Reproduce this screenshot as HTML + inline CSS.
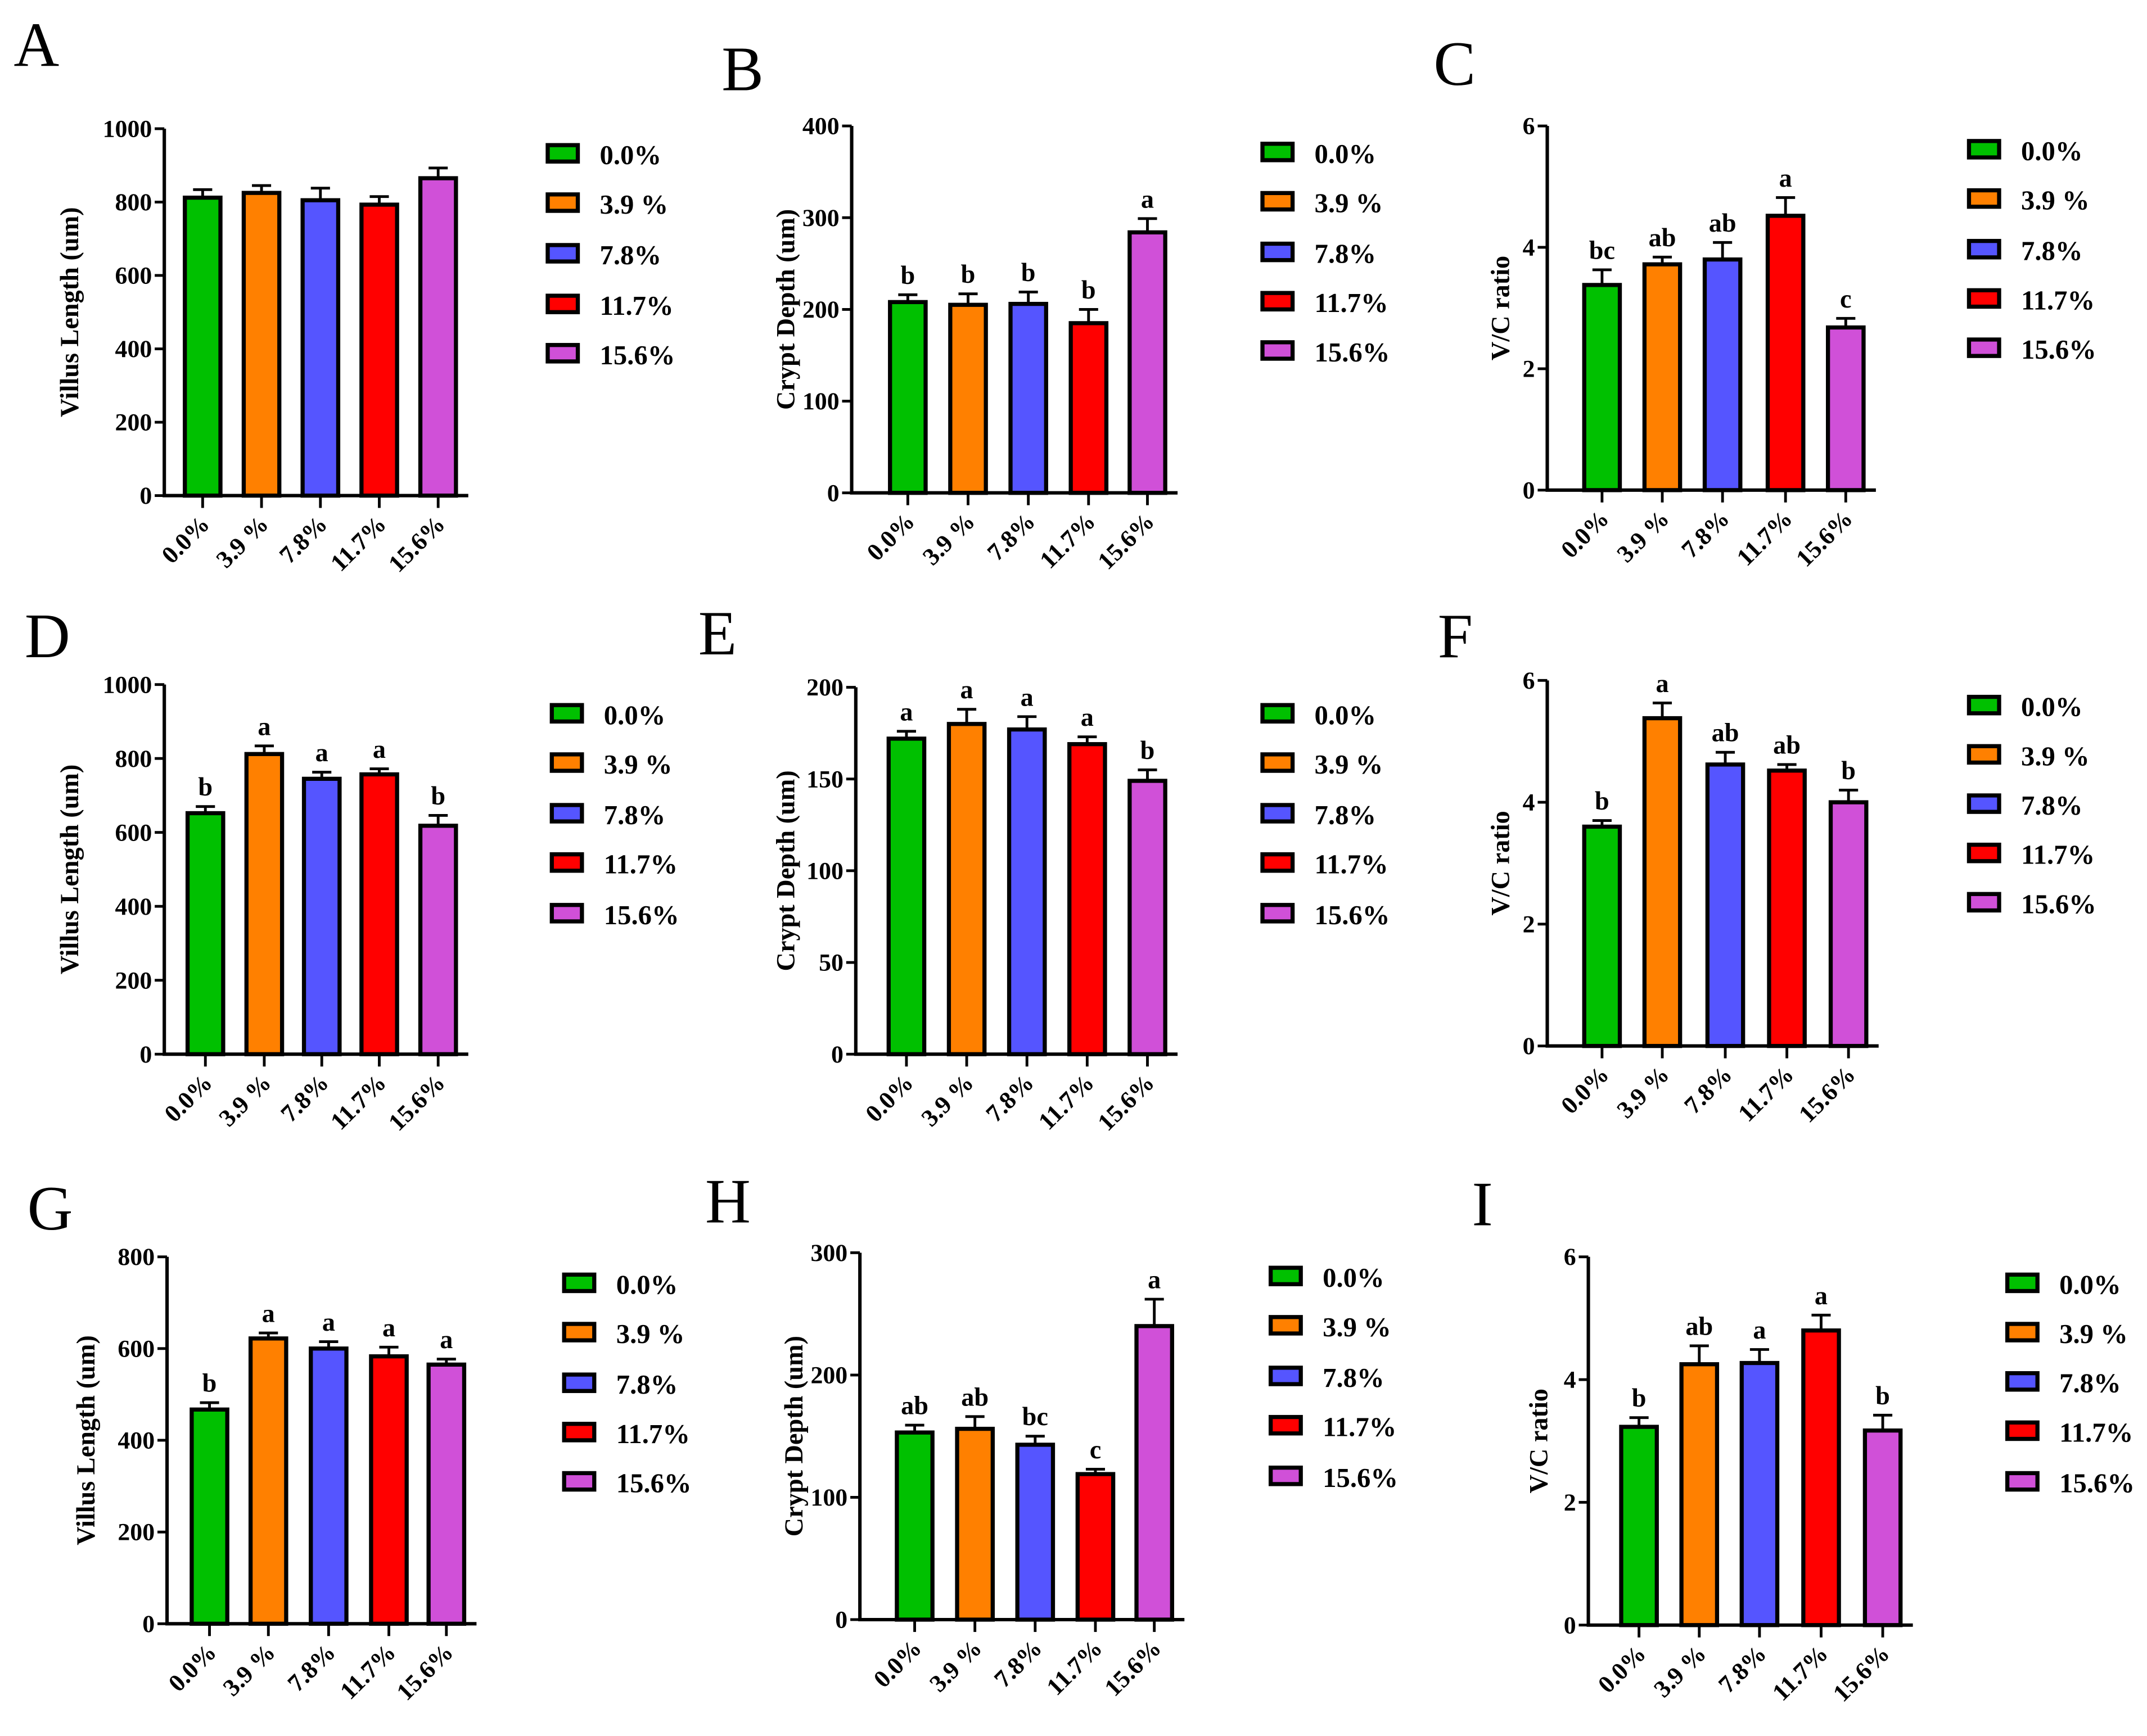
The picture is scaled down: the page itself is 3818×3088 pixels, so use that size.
<!DOCTYPE html>
<html><head><meta charset="utf-8"><style>
html,body{margin:0;padding:0;background:#fff}
svg{display:block}
text{font-family:"Liberation Serif",serif;font-weight:bold;fill:#000}
</style></head><body>
<svg id="fig" width="3818" height="3088" viewBox="0 0 1568 1268" preserveAspectRatio="none" xmlns="http://www.w3.org/2000/svg"></svg>
<script>
const categories = ["0.0%","3.9 %","7.8%","11.7%","15.6%"];
const colors = ["#00c000","#ff8000","#5555ff","#ff0000","#d050d8"];
const valsA = [812,825,805,793,865], errA = [22,20,33,22,28], letA = ["","","","",""];
const valsB = [208,205,206,185,284], errB = [8,12,13,15,15], letB = ["b","b","b","b","a"];
const valsC = [3.38,3.72,3.8,4.52,2.68], errC = [0.25,0.12,0.28,0.3,0.15], letC = ["bc","ab","ab","a","c"];
const valsD = [652,812,745,757,618], errD = [18,22,18,15,28], letD = ["b","a","a","a","b"];
const valsE = [172,180,177,169,149], errE = [4,8,7,4,6], letE = ["a","a","a","a","b"];
const valsF = [3.6,5.38,4.62,4.52,4.0], errF = [0.1,0.25,0.2,0.1,0.2], letF = ["b","a","ab","ab","b"];
const valsG = [467,622,600,583,565], errG = [15,12,15,20,12], letG = ["b","a","a","a","a"];
const valsH = [153,156,143,119,240], errH = [6,10,7,4,22], letH = ["ab","ab","bc","c","a"];
const valsI = [3.23,4.25,4.27,4.8,3.17], errI = [0.15,0.3,0.22,0.25,0.25], letI = ["b","ab","a","a","b"];
const ticks1000 = [0,200,400,600,800,1000];
const ticks400 = [0,100,200,300,400];
const ticks6 = [0,2,4,6];
const ticks200 = [0,50,100,150,200];
const ticks800 = [0,200,400,600,800];
const ticks300 = [0,100,200,300];

const panels = [
 {id:"A",lx:10,ly:48,ax:120,top:94,zero:362,max:1000,ticks:ticks1000,vals:valsA,err:errA,let:letA,bx:[148,191,234,277,320],title:"Villus Length (um)",tx:57,lgx:400,lgy:[112,148,185,222,258]},
 {id:"B",lx:527,ly:66,ax:622,top:92,zero:360,max:400,ticks:ticks400,vals:valsB,err:errB,let:letB,bx:[663,707,751,795,838],title:"Crypt Depth (um)",tx:580,lgx:922,lgy:[111,147,184,220,256]},
 {id:"C",lx:1047,ly:62,ax:1130,top:92,zero:358,max:6,ticks:ticks6,vals:valsC,err:errC,let:letC,bx:[1170,1214,1258,1304,1348],title:"V/C ratio",tx:1102,lgx:1438,lgy:[109,145,182,218,254]},
 {id:"D",lx:18,ly:480,ax:120,top:500,zero:770,max:1000,ticks:ticks1000,vals:valsD,err:errD,let:letD,bx:[150,193,235,277,320],title:"Villus Length (um)",tx:57,lgx:403,lgy:[521,557,594,630,667]},
 {id:"E",lx:510,ly:478,ax:625,top:502,zero:770,max:200,ticks:ticks200,vals:valsE,err:errE,let:letE,bx:[662,706,750,794,838],title:"Crypt Depth (um)",tx:580,lgx:922,lgy:[521,557,594,630,667]},
 {id:"F",lx:1050,ly:480,ax:1130,top:497,zero:764,max:6,ticks:ticks6,vals:valsF,err:errF,let:letF,bx:[1170,1214,1260,1305,1350],title:"V/C ratio",tx:1102,lgx:1438,lgy:[515,551,587,623,659]},
 {id:"G",lx:20,ly:898,ax:122,top:918,zero:1186,max:800,ticks:ticks800,vals:valsG,err:errG,let:letG,bx:[153,196,240,284,326],title:"Villus Length (um)",tx:69,lgx:412,lgy:[937,973,1010,1046,1082]},
 {id:"H",lx:515,ly:893,ax:628,top:915,zero:1183,max:300,ticks:ticks300,vals:valsH,err:errH,let:letH,bx:[668,712,756,800,843],title:"Crypt Depth (um)",tx:586,lgx:928,lgy:[932,968,1005,1041,1078]},
 {id:"I",lx:1075,ly:895,ax:1160,top:918,zero:1187,max:6,ticks:ticks6,vals:valsI,err:errI,let:letI,bx:[1197,1241,1285,1330,1375],title:"V/C ratio",tx:1130,lgx:1466,lgy:[937,973,1009,1045,1082]}
];
const NS="http://www.w3.org/2000/svg";
const svg=document.getElementById("fig");
function mk(tag,attrs,parent,txt){const e=document.createElementNS(NS,tag);for(const k in attrs)e.setAttribute(k,attrs[k]);if(txt!==undefined)e.textContent=txt;parent.appendChild(e);return e;}
panels.forEach(p=>{
  const g=mk("g",{},svg);
  
  
  const y=v=>p.zero-(v/p.max)*(p.zero-p.top);
  const lab=mk("text",{x:p.lx,y:p.ly,"font-size":46,style:"font-weight:normal"},g,p.id);
  
  
  const w=26, end=p.bx[4]+22;
  p.vals.forEach((v,i)=>{
    const cx=p.bx[i], yt=y(v), ye=y(v+p.err[i]);
    const eb=mk("path",{d:`M${cx} ${yt} V${ye} M${cx-7} ${ye} H${cx+7}`,stroke:"#000","stroke-width":2,fill:"none"},g);
    
    
    const r=mk("rect",{x:cx-w/2,y:yt,width:w,height:p.zero-yt,fill:colors[i],stroke:"#000","stroke-width":3},g);
    
    
    if(p.let[i]){
      const t=mk("text",{x:cx,y:ye-8,"font-size":19,"text-anchor":"middle"},g,p.let[i]);
      
      
    }
    const tk=mk("line",{x1:cx,x2:cx,y1:p.zero,y2:p.zero+9,stroke:"#000","stroke-width":2},g);
    
    
    const xl=mk("text",{x:0,y:0,"font-size":18,"text-anchor":"end",transform:`translate(${cx+6},${p.zero+22}) rotate(-45)`},g,categories[i]);
    
    
  });
  const axes=mk("path",{d:`M${p.ax} ${p.top} V${p.zero} H${end}`,stroke:"#000","stroke-width":2.5,fill:"none"},g);
  
  
  p.ticks.forEach(tv=>{
    const ty=y(tv);
    const tl=mk("line",{x1:p.ax-7,x2:p.ax,y1:ty,y2:ty,stroke:"#000","stroke-width":2},g);
    
    
    const tt=mk("text",{x:p.ax-9,y:ty+6,"font-size":18,"text-anchor":"end"},g,String(tv));
    
    
  });
  const ym=(p.top+p.zero)/2;
  const yt=mk("text",{x:0,y:0,"font-size":19,"text-anchor":"middle",transform:`translate(${p.tx},${ym}) rotate(-90)`},g,p.title);
  
  
  categories.forEach((c,i)=>{
    const ly=p.lgy[i];
    const lr=mk("rect",{x:p.lgx,y:ly-6,width:22,height:12,fill:colors[i],stroke:"#000","stroke-width":3},g);
    
    
    const lt=mk("text",{x:p.lgx+38,y:ly+8,"font-size":20},g,c);
    
    
  });
});
</script>
</body></html>
